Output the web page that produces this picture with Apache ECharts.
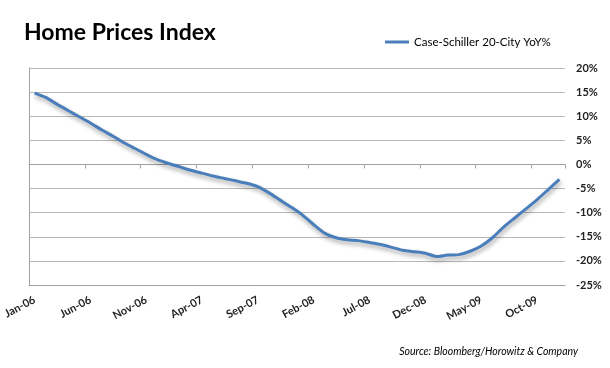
<!DOCTYPE html>
<html><head><meta charset="utf-8">
<script src="https://cdn.jsdelivr.net/npm/echarts@6/dist/echarts.min.js"></script>
<style>html,body{margin:0;padding:0;background:#fff}#c{width:610px;height:368px}</style>
</head><body><div id="c"></div>
<script>
const categories = [
 'Jan-06','Feb-06','Mar-06','Apr-06','May-06','Jun-06','Jul-06','Aug-06','Sep-06','Oct-06','Nov-06','Dec-06',
 'Jan-07','Feb-07','Mar-07','Apr-07','May-07','Jun-07','Jul-07','Aug-07','Sep-07','Oct-07','Nov-07','Dec-07',
 'Jan-08','Feb-08','Mar-08','Apr-08','May-08','Jun-08','Jul-08','Aug-08','Sep-08','Oct-08','Nov-08','Dec-08',
 'Jan-09','Feb-09','Mar-09','Apr-09','May-09','Jun-09','Jul-09','Aug-09','Sep-09','Oct-09','Nov-09','Dec-09'
];
const yoyValues = [
 14.8, 13.9, 12.5, 11.2, 9.9, 8.6, 7.2, 5.9, 4.5, 3.3, 2.1, 1.0,
 0.2, -0.5, -1.2, -1.8, -2.4, -2.9, -3.4, -3.9, -4.6, -5.9, -7.4, -8.9,
 -10.5, -12.5, -14.3, -15.2, -15.6, -15.8, -16.2, -16.6, -17.2, -17.8, -18.1, -18.4,
 -19.1, -18.8, -18.7, -18.0, -16.9, -15.2, -13.0, -11.1, -9.2, -7.3, -5.2, -3.1
];
const yTicks = { min: -25, max: 20, interval: 5 };
const seriesName = 'Case-Schiller 20-City YoY%';
const titleText = 'Home Prices Index';
const sourceText = 'Source: Bloomberg/Horowitz & Company';

const chart = echarts.init(document.getElementById('c'), null, {renderer: 'canvas'});
const font = 'Lato, "Open Sans", sans-serif';
chart.setOption({
  animation: false,
  backgroundColor: '#fff',
  textStyle: { fontFamily: font },
  title: { text: titleText, left: 19, top: 16,
    textStyle: { fontSize: 23, fontWeight: 'bold', color: '#000', fontFamily: font } },
  legend: { left: 380, top: 31, itemWidth: 24, itemHeight: 3, icon: 'rect',
    data: [{ name: seriesName }],
    textStyle: { fontSize: 11.5, color: '#000', fontFamily: font } },
  grid: { left: 29, right: 45, top: 68, bottom: 83 },
  xAxis: [
    { type: 'category', data: categories, boundaryGap: true,
      axisLine: { show: true, onZero: true, lineStyle: { color: '#a0a0a0' } },
      axisTick: { show: true, interval: 4, length: 4, lineStyle: { color: '#a0a0a0' } },
      axisLabel: { show: false }, splitLine: { show: false } },
    { type: 'category', data: categories, boundaryGap: true, position: 'bottom',
      axisLine: { show: true, onZero: false, lineStyle: { color: '#a0a0a0' } },
      axisTick: { show: false },
      axisLabel: { interval: 4, rotate: 28, margin: 14, fontSize: 11, fontWeight: 'bold', color: '#222', fontFamily: font },
      splitLine: { show: false } }
  ],
  yAxis: [
    { type: 'value', position: 'right', min: yTicks.min, max: yTicks.max, interval: yTicks.interval,
      axisLine: { show: false }, axisTick: { show: false },
      axisLabel: { formatter: '{value}%', margin: 11, fontSize: 11, fontWeight: 'bold', color: '#222', fontFamily: font },
      splitLine: { show: true, lineStyle: { color: '#b8b8b8', width: 1 } } },
    { type: 'value', position: 'left', min: yTicks.min, max: yTicks.max, interval: yTicks.interval,
      axisLine: { show: true, lineStyle: { color: '#a0a0a0' } }, axisTick: { show: false },
      axisLabel: { show: false }, splitLine: { show: false } }
  ],
  graphic: [
    { type: 'text', right: 32, top: 346,
      style: { text: sourceText, fill: '#000', font: 'italic 10.5px ' + font } }
  ],
  series: [{
    name: seriesName, type: 'line', data: yoyValues, xAxisIndex: 0, yAxisIndex: 0,
    symbol: 'none', smooth: 0.2, color: '#4a7ebb',
    lineStyle: { width: 3, color: '#4a7ebb', shadowColor: 'rgba(0,0,0,0.35)', shadowBlur: 4, shadowOffsetX: 1, shadowOffsetY: 3 }
  }]
});
</script></body></html>
